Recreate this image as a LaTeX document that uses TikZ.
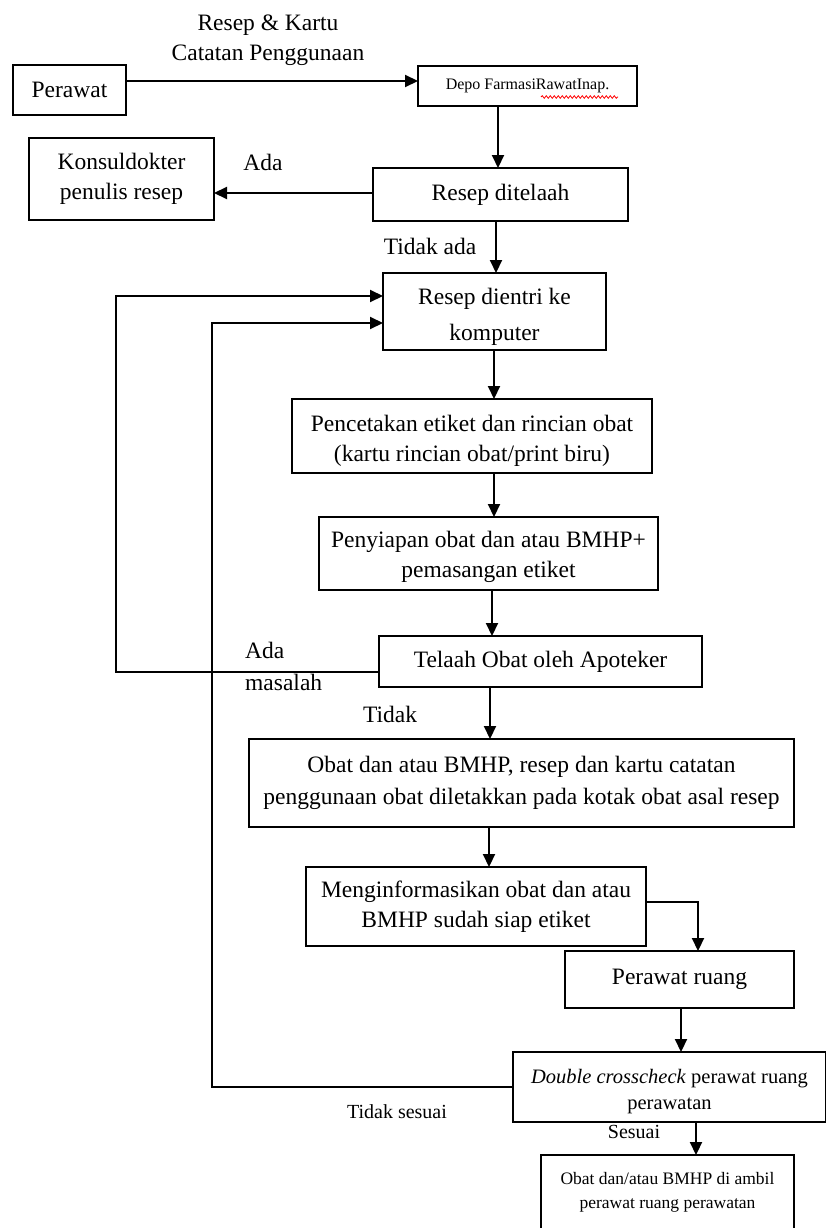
\documentclass[tikz,border=0pt]{standalone}
\usepackage{fontspec}
\setmainfont{Liberation Serif}
\usetikzlibrary{arrows.meta,decorations.pathmorphing}
\newcommand{\fmain}{\fontsize{23.5}{30}\selectfont}
\newcommand{\fwide}{\fontsize{23.5}{36}\selectfont}
\newcommand{\fobat}{\fontsize{23.5}{32}\selectfont}
\newcommand{\fdbl}{\fontsize{20.5}{26}\selectfont}
\newcommand{\ffin}{\fontsize{17.5}{24}\selectfont}
\newcommand{\fdepo}{\fontsize{16}{20}\selectfont}
\newcommand{\flbl}{\fontsize{20}{26}\selectfont}
\begin{document}
\begin{tikzpicture}[x=1pt,y=-1pt,
  box/.style={draw, line width=2.1pt, align=center, inner sep=0pt, outer sep=0pt, font=\fmain},
  arr/.style={line width=2.1pt, -{Triangle[length=13pt,width=12pt]}},
  lbl/.style={inner sep=0pt, font=\fmain, align=center}]
\fill[white] (0,0) rectangle (825,1228);
\useasboundingbox (0,0) rectangle (825,1228);

% nodes
\node[box, minimum width=113pt, minimum height=50pt] (perawat) at (69.5,90) {Perawat};
\node[box, minimum width=219pt, minimum height=40pt, font=\fdepo] (depo) at (527.5,86) {\raisebox{-3pt}{Depo FarmasiRawatInap.}};
\node[box, minimum width=185pt, minimum height=82pt] (konsul) at (121.5,179) {Konsuldokter\\penulis resep};
\node[box, minimum width=255pt, minimum height=53pt] (ditelaah) at (500.5,194.5) {\raisebox{-3pt}{Resep ditelaah}};
\node[box, minimum width=223pt, minimum height=77pt, font=\fwide, text height=62pt] (dientri) at (494.5,311.5) {Resep dientri ke\\komputer};
\node[box, minimum width=360pt, minimum height=74pt, text height=56pt] (pencet) at (472,436) {Pencetakan etiket dan rincian obat\\(kartu rincian obat/print biru)};
\node[box, minimum width=339pt, minimum height=73pt, text height=54pt] (penyiap) at (488.5,553.5) {Penyiapan obat dan atau BMHP+\\pemasangan etiket};
\node[box, minimum width=323pt, minimum height=51pt] (telaah) at (540.5,661.5) {Telaah Obat oleh Apoteker};
\node[box, minimum width=545pt, minimum height=88pt, font=\fobat] (obat) at (521.5,783) {Obat dan atau BMHP, resep dan kartu catatan\\penggunaan obat diletakkan pada kotak obat asal resep};
\node[box, minimum width=340pt, minimum height=79pt] (menginf) at (476,906.5) {Menginformasikan obat dan atau\\BMHP sudah siap etiket};
\node[box, minimum width=229pt, minimum height=57pt] (pruang) at (679.5,979.5) {\raisebox{4pt}{Perawat ruang}};
\node[box, minimum width=313pt, minimum height=70pt, font=\fdbl, text height=50pt] (double) at (669.5,1087) {\textit{Double crosscheck} perawat ruang\\perawatan};
\node[box, minimum width=253pt, minimum height=74pt, font=\ffin] (final) at (667.5,1192) {Obat dan/atau BMHP di ambil\\perawat ruang perawatan};

% spell-check underline
\draw[red, line width=0.8pt, decorate, decoration={snake, amplitude=1.3pt, segment length=4pt}] (541,97) -- (618,97);

% labels
\node[lbl] (lresep) at (268,40.5) {Resep \& Kartu\\Catatan Penggunaan};
\node[lbl] (lada1) at (263,162) {Ada};
\node[lbl] (ltidakada) at (430,246) {Tidak ada};
\node[lbl, anchor=west, align=left, font=\fontsize{23.5}{32}\selectfont] (lada2) at (245,666) {Ada\\masalah};
\node[lbl] (ltidak) at (390,714) {Tidak};
\node[lbl, font=\flbl] (ltdksesuai) at (397,1112) {Tidak sesuai};
\node[lbl, font=\flbl] (lsesuai) at (634,1132) {Sesuai};

% x guides
\coordinate (xa) at (498,0);
\coordinate (xb) at (496,0);
\coordinate (xc) at (494,0);
\coordinate (xd) at (492,0);
\coordinate (xe) at (490,0);
\coordinate (xf) at (489,0);
\coordinate (xg) at (698,0);
\coordinate (xh) at (681,0);
\coordinate (xi) at (696,0);
\coordinate (loopa) at (116,0);
\coordinate (loopb) at (212,0);

% connectors
\draw[arr] (perawat.east |- 0,81) -- (depo.west |- 0,81);
\draw[arr] (depo.south -| xa) -- (ditelaah.north -| xa);
\draw[arr] (ditelaah.west |- 0,193) -- (konsul.east |- 0,193);
\draw[arr] (ditelaah.south -| xb) -- (dientri.north -| xb);
\draw[arr] (dientri.south -| xc) -- (pencet.north -| xc);
\draw[arr] (pencet.south -| xc) -- (penyiap.north -| xc);
\draw[arr] (penyiap.south -| xd) -- (telaah.north -| xd);
\draw[arr] (telaah.south -| xe) -- (obat.north -| xe);
\draw[arr] (obat.south -| xf) -- (menginf.north -| xf);
\draw[arr] (menginf.east |- 0,902) -| (pruang.north -| xg);
\draw[arr] (pruang.south -| xh) -- (double.north -| xh);
\draw[arr] (double.south -| xi) -- (final.north -| xi);
\draw[arr] (telaah.west |- 0,672) -| (loopa |- 0,296) -- (dientri.west |- 0,296);
\draw[arr] (double.west |- 0,1087) -| (loopb |- 0,323) -- (dientri.west |- 0,323);
\end{tikzpicture}
\end{document}
